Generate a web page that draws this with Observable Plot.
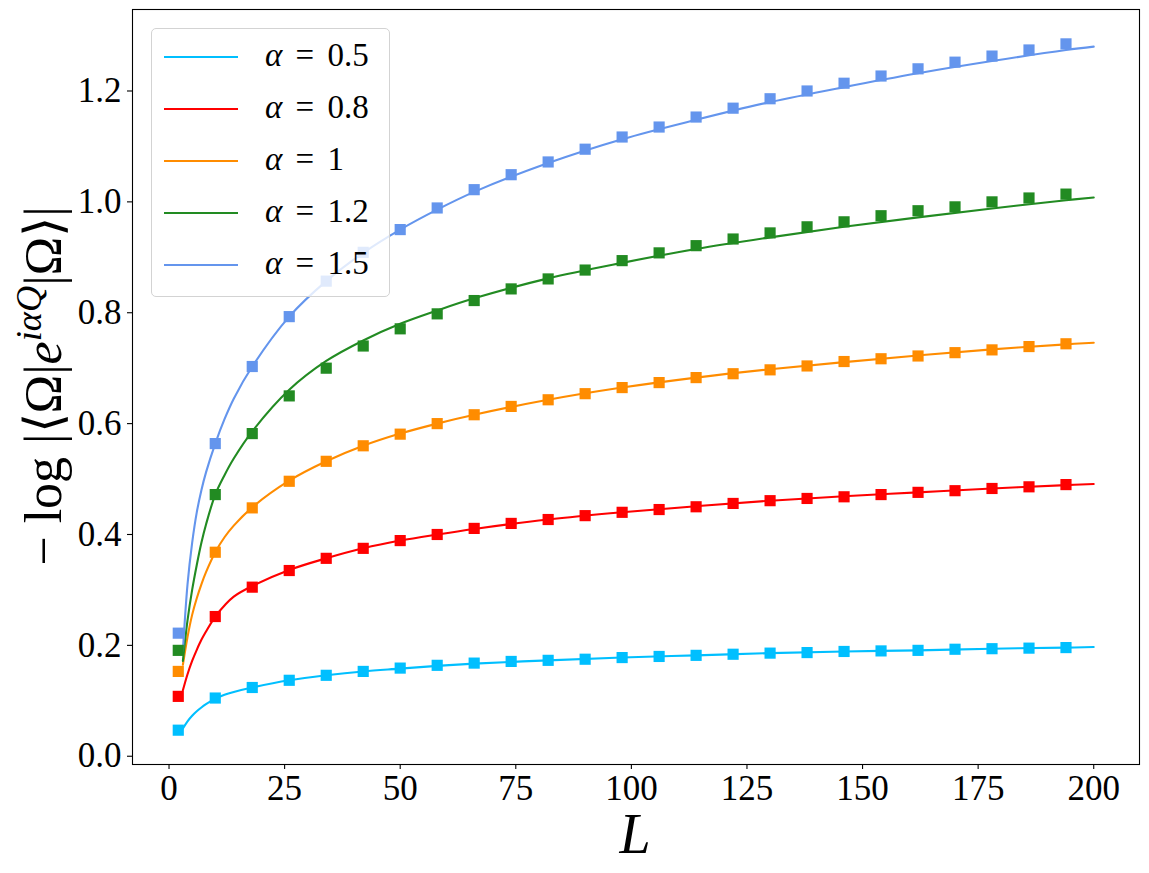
<!DOCTYPE html>
<html>
<head>
<meta charset="utf-8">
<script src="https://cdn.jsdelivr.net/npm/d3@7"></script>
<script src="https://cdn.jsdelivr.net/npm/@observablehq/plot@0.6"></script>
<style>
  html, body { margin: 0; padding: 0; background: #fff; }
  #wrap { position: relative; width: 1149px; height: 873px; font-family: "Liberation Serif", serif; }
  #legend { position: absolute; left: 151px; top: 28px; width: 239px; height: 269px;
            border: 1px solid #d3d3d3; border-radius: 5px; background: rgba(255,255,255,0.8); box-sizing: border-box; }
  .entry-line { position: absolute; left: 12px; width: 74px; height: 2px; }
  .entry-text { position: absolute; left: 113px; font-size: 33px; line-height: 1; white-space: nowrap; word-spacing: 5px; }
  #ylabel { position: absolute; left: 44px; top: 386px; transform: translate(-50%, -50%) rotate(-90deg);
            font-size: 52px; white-space: nowrap; line-height: 1; }
  #xlabel { position: absolute; left: 635px; top: 806px; transform: translateX(-50%); font-size: 56px; font-style: italic; line-height: 1; }
  sup { font-size: 0.7em; vertical-align: 0.55em; line-height: 0; }
</style>
</head>
<body>
<div id="wrap"></div>
<script>
// ---- data ----
const names = ["α = 0.5", "α = 0.8", "α = 1", "α = 1.2", "α = 1.5"];
const colors = ["#00bfff", "#ff0000", "#ff8c00", "#228b22", "#6495ed"];

// square markers (numerical data)
const pointL = [2, 10, 18, 26, 34, 42, 50, 58, 66, 74, 82, 90, 98, 106, 114, 122, 130, 138, 146, 154, 162, 170, 178, 186, 194];
const pts05 = [0.047, 0.105, 0.124, 0.137, 0.146, 0.153, 0.159, 0.164, 0.168, 0.171, 0.173, 0.175, 0.178, 0.180, 0.182, 0.184, 0.186, 0.187, 0.189, 0.190, 0.191, 0.193, 0.194, 0.195, 0.196];
const pts08 = [0.108, 0.252, 0.305, 0.335, 0.357, 0.375, 0.389, 0.400, 0.411, 0.420, 0.427, 0.434, 0.440, 0.445, 0.450, 0.456, 0.461, 0.465, 0.468, 0.472, 0.476, 0.479, 0.483, 0.486, 0.490];
const pts10 = [0.153, 0.368, 0.448, 0.496, 0.532, 0.560, 0.581, 0.600, 0.616, 0.631, 0.643, 0.654, 0.665, 0.674, 0.683, 0.690, 0.697, 0.704, 0.712, 0.717, 0.722, 0.728, 0.733, 0.739, 0.744];
const pts12 = [0.191, 0.472, 0.582, 0.650, 0.700, 0.740, 0.771, 0.798, 0.822, 0.843, 0.861, 0.877, 0.894, 0.908, 0.921, 0.933, 0.944, 0.955, 0.964, 0.975, 0.984, 0.991, 1.000, 1.007, 1.014];
const pts15 = [0.222, 0.564, 0.703, 0.793, 0.857, 0.909, 0.950, 0.989, 1.022, 1.049, 1.072, 1.095, 1.117, 1.135, 1.153, 1.169, 1.186, 1.200, 1.214, 1.227, 1.240, 1.252, 1.263, 1.274, 1.285];

// continuous curves (read at these L values)
const lineL = [3, 4, 5, 6, 7, 8, 10, 12, 14, 18, 26, 34, 42, 50, 58, 66, 82, 98, 114, 130, 146, 162, 178, 194, 200];
const line05 = [0.050, 0.063, 0.073, 0.081, 0.088, 0.094, 0.104, 0.111, 0.116, 0.124, 0.137, 0.146, 0.153, 0.158, 0.163, 0.167, 0.173, 0.178, 0.182, 0.186, 0.189, 0.191, 0.194, 0.196, 0.197];
const line08 = [0.119, 0.148, 0.172, 0.192, 0.210, 0.225, 0.252, 0.272, 0.288, 0.307, 0.336, 0.357, 0.375, 0.389, 0.400, 0.410, 0.427, 0.440, 0.451, 0.461, 0.469, 0.476, 0.483, 0.489, 0.491];
const line10 = [0.165, 0.215, 0.255, 0.285, 0.310, 0.332, 0.368, 0.395, 0.416, 0.449, 0.497, 0.532, 0.560, 0.582, 0.600, 0.616, 0.643, 0.665, 0.683, 0.698, 0.711, 0.723, 0.734, 0.743, 0.746];
const line12 = [0.172, 0.245, 0.300, 0.345, 0.385, 0.418, 0.472, 0.507, 0.537, 0.586, 0.661, 0.713, 0.750, 0.780, 0.804, 0.826, 0.862, 0.890, 0.915, 0.936, 0.955, 0.972, 0.988, 1.003, 1.008];
const line15 = [0.190, 0.310, 0.385, 0.440, 0.480, 0.512, 0.564, 0.608, 0.645, 0.703, 0.793, 0.857, 0.908, 0.950, 0.986, 1.018, 1.070, 1.113, 1.148, 1.180, 1.207, 1.232, 1.254, 1.274, 1.280];

const xTicks = [0, 25, 50, 75, 100, 125, 150, 175, 200];
const yTicks = [0.0, 0.2, 0.4, 0.6, 0.8, 1.0, 1.2];

// ---- build tables ----
const ptsAll = [pts05, pts08, pts10, pts12, pts15];
const linesAll = [line05, line08, line10, line12, line15];
const pointData = ptsAll.flatMap((arr, i) => arr.map((v, j) => ({L: pointL[j], v, s: names[i]})));
const lineData = linesAll.flatMap((arr, i) => arr.map((v, j) => ({L: lineL[j], v, s: names[i]})));

const chart = Plot.plot({
  width: 1149, height: 873,
  marginLeft: 132, marginRight: 10, marginTop: 9, marginBottom: 109,
  x: {domain: [-7.9, 209.9]},
  y: {domain: [-0.0149, 1.347]},
  color: {domain: names, range: colors},
  style: {fontFamily: "'Liberation Serif', serif", fontSize: "35px", color: "black", background: "white"},
  marks: [
    Plot.line(lineData, {x: "L", y: "v", stroke: "s", z: "s", curve: "catmull-rom", strokeWidth: 2.1}),
    Plot.dot(pointData, {x: "L", y: "v", fill: "s", symbol: "square", r: 6.3}),
    Plot.frame({stroke: "black", strokeWidth: 1.1}),
    Plot.axisX({ticks: xTicks, tickSize: 5, tickPadding: 6, tickFormat: d => String(d), label: null, strokeWidth: 1.1}),
    Plot.axisY({ticks: yTicks, tickSize: 5, tickPadding: 6, tickFormat: d => d.toFixed(1), label: null, strokeWidth: 1.1})
  ]
});

const wrap = document.getElementById("wrap");
wrap.appendChild(chart);

// legend
const legend = document.createElement("div");
legend.id = "legend";
const rowTops = [28, 80, 132, 184, 236];
names.forEach((n, i) => {
  const ln = document.createElement("div");
  ln.className = "entry-line";
  ln.style.top = (rowTops[i] - 1) + "px";
  ln.style.background = colors[i];
  legend.appendChild(ln);
  const tx = document.createElement("div");
  tx.className = "entry-text";
  tx.style.top = (rowTops[i] - 18) + "px";
  const val = n.split("= ")[1];
  tx.innerHTML = "<i>α</i> = " + val;
  legend.appendChild(tx);
});
wrap.appendChild(legend);

// axis labels
const yl = document.createElement("div");
yl.id = "ylabel";
yl.innerHTML = "− log |⟨Ω|<i>e</i><sup><i>iαQ</i></sup>|Ω⟩|";
wrap.appendChild(yl);
const xl = document.createElement("div");
xl.id = "xlabel";
xl.textContent = "L";
wrap.appendChild(xl);
</script>
</body>
</html>
